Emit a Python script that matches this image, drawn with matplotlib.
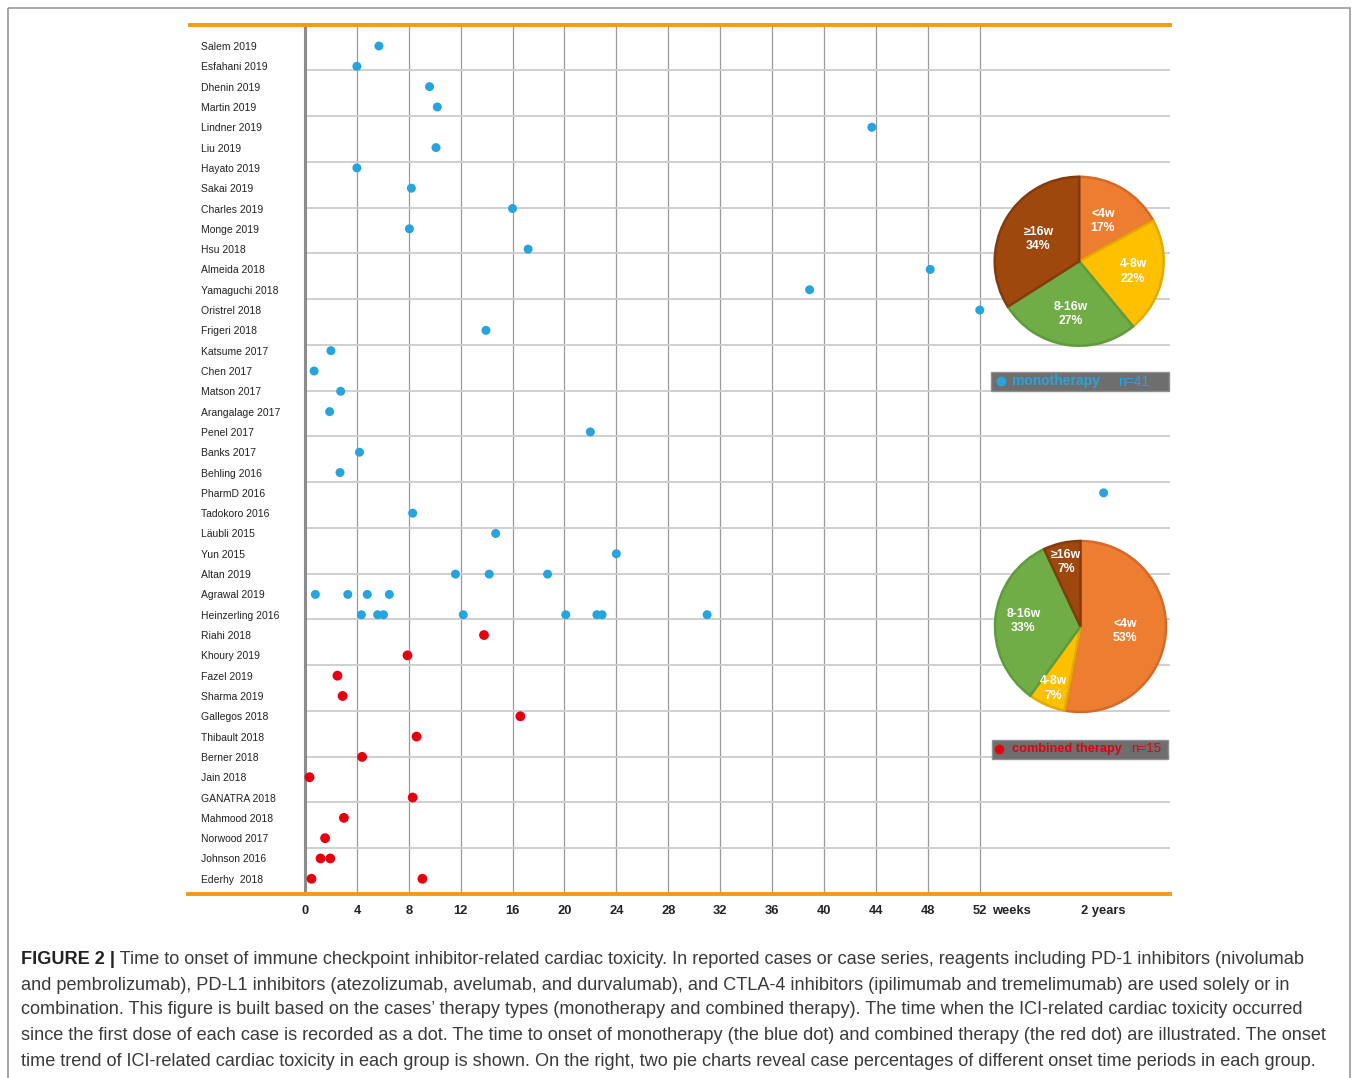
import numpy as np
import matplotlib.pyplot as plt
from matplotlib.patches import Rectangle
from matplotlib.lines import Line2D

W, H = 1352, 1078

# cases, top to bottom
cases = ["Salem 2019", "Esfahani 2019", "Dhenin 2019", "Martin 2019", "Lindner 2019",
         "Liu 2019", "Hayato 2019", "Sakai 2019", "Charles 2019", "Monge 2019",
         "Hsu 2018", "Almeida 2018", "Yamaguchi 2018", "Oristrel 2018", "Frigeri 2018",
         "Katsume 2017", "Chen 2017", "Matson 2017", "Arangalage 2017", "Penel 2017",
         "Banks 2017", "Behling 2016", "PharmD 2016", "Tadokoro 2016", "Läubli 2015",
         "Yun 2015", "Altan 2019", "Agrawal 2019", "Heinzerling 2016",
         "Riahi 2018", "Khoury 2019", "Fazel 2019", "Sharma 2019", "Gallegos 2018",
         "Thibault 2018", "Berner 2018", "Jain 2018", "GANATRA 2018", "Mahmood 2018",
         "Norwood 2017", "Johnson 2016", "Ederhy  2018"]

# time to onset in weeks (104 = 2 years)
onset_weeks = [[5.7], [4.0], [9.6], [10.2], [43.7],
               [10.1], [4.0], [8.2], [16.0], [8.05],
               [17.2], [48.2], [38.9], [52.1], [13.95],
               [2.0], [0.7], [2.75], [1.9], [22.0],
               [4.2], [2.7], [104], [8.3], [14.7],
               [24.0], [11.6, 14.2, 18.7], [0.8, 3.3, 4.8, 6.5],
               [4.35, 5.6, 6.05, 12.2, 20.1, 22.5, 22.9, 31.0],
               [13.8], [7.9], [2.5], [2.9], [16.6],
               [8.6], [4.4], [0.35], [8.3], [3.0],
               [1.55], [1.2, 1.95], [0.5, 9.05]]
therapy = ["mono"] * 29 + ["combined"] * 13

tick_weeks = [0, 4, 8, 12, 16, 20, 24, 28, 32, 36, 40, 44, 48, 52, 104]
tick_labels = ["0", "4", "8", "12", "16", "20", "24", "28", "32", "36", "40",
               "44", "48", "52", "2 years"]

pie_labels = ["<4w", "4-8w", "8-16w", "≥16w"]
mono_pct = [17, 22, 27, 34]
comb_pct = [53, 7, 33, 7]
mono_n = 41
comb_n = 15

caption = [
    "Time to onset of immune checkpoint inhibitor-related cardiac toxicity. In reported cases or case series, reagents including PD-1 inhibitors (nivolumab",
    "and pembrolizumab), PD-L1 inhibitors (atezolizumab, avelumab, and durvalumab), and CTLA-4 inhibitors (ipilimumab and tremelimumab) are used solely or in",
    "combination. This figure is built based on the cases\u2019 therapy types (monotherapy and combined therapy). The time when the ICI-related cardiac toxicity occurred",
    "since the first dose of each case is recorded as a dot. The time to onset of monotherapy (the blue dot) and combined therapy (the red dot) are illustrated. The onset",
    "time trend of ICI-related cardiac toxicity in each group is shown. On the right, two pie charts reveal case percentages of different onset time periods in each group.",
]

BLUE = "#27A4DD"
RED = "#E4000F"
ORANGE = "#F59A12"
pie_colors = ["#ED7D31", "#FFC000", "#70AD47", "#9E480E"]
pie_edges = ["#D4692A", "#E3AA00", "#5E9B3A", "#843B0C"]

plt.rcParams['font.family'] = ['Liberation Sans', 'DejaVu Sans']

fig = plt.figure(figsize=(W / 100, H / 100), dpi=100)


def px_box(x0, y0, x1, y1):
    return [x0 / W, 1 - y1 / H, (x1 - x0) / W, (y1 - y0) / H]


# main dot chart
ax = fig.add_axes(px_box(305, 24.7, 1170, 894))

K = 0.184  # compression of the part after 52 weeks


def fwd(x):
    x = np.asarray(x, float)
    return np.where(x <= 52, x, 52 + (x - 52) * K)


def inv(y):
    y = np.asarray(y, float)
    return np.where(y <= 52, y, 52 + (y - 52) / K)


ax.set_xscale('function', functions=(fwd, inv))
ax.set_xlim(0, 131.8)
ax.set_ylim(41.75, -1.05)

for w in tick_weeks:
    if 0 < w <= 52:
        ax.axvline(w, color='#9A9A9A', lw=0.9, zorder=1)
for k in range(1, 19):
    ax.plot([0, 1], [k / 19, k / 19], transform=ax.transAxes, color='#CFCFCF', lw=1.4, zorder=1)

for spine in ['top', 'bottom', 'right']:
    ax.spines[spine].set_visible(False)
ax.spines['left'].set_color('#8C8C8C')
ax.spines['left'].set_linewidth(2.2)

for yy, x0 in [(1, -0.133), (0, -0.135)]:
    ax.add_line(Line2D([x0, 1], [yy, yy], transform=ax.transAxes, color=ORANGE,
                       lw=2.8, clip_on=False, zorder=4))

for i, (weeks, grp) in enumerate(zip(onset_weeks, therapy)):
    col = BLUE if grp == "mono" else RED
    size = 42 if grp == "mono" else 50
    ax.scatter(weeks, [i] * len(weeks), s=size, color=col, edgecolors='none', zorder=3, clip_on=False)

ax.set_yticks(range(len(cases)), cases)
ax.tick_params(axis='y', length=0, pad=75, labelsize=7.5, labelcolor='#222222')
for lbl in ax.get_yticklabels():
    lbl.set_horizontalalignment('left')

ax.set_xticks(tick_weeks, tick_labels)
ax.tick_params(axis='x', length=0, pad=8, labelsize=9.3, labelcolor='#222222')
for lbl in ax.get_xticklabels():
    lbl.set_fontweight('bold')
ax.annotate("weeks", xy=(52, 0), xycoords=('data', 'axes fraction'), xytext=(9, -8),
            textcoords='offset points', ha='left', va='top', fontsize=9.3,
            fontweight='bold', color='#222222')


# pies
def draw_pie(cx, cy, r, pct, label_r):
    m = 1.04
    pax = fig.add_axes(px_box(cx - r * m, cy - r * m, cx + r * m, cy + r * m))
    wedges, _ = pax.pie(pct, colors=pie_colors, startangle=90, counterclock=False,
                        wedgeprops=dict(linewidth=1.8))
    for wdg, ec in zip(wedges, pie_edges):
        wdg.set_edgecolor(ec)
    pax.set_xlim(-m, m)
    pax.set_ylim(-m, m)
    for wdg, name, p, lr in zip(wedges, pie_labels, pct, label_r):
        ang = np.deg2rad((wdg.theta1 + wdg.theta2) / 2)
        pax.text(lr * np.cos(ang), lr * np.sin(ang), f"{name}\n{p}%", ha='center',
                 va='center', color='white', fontweight='bold', fontsize=8.8, linespacing=1.25)


draw_pie(1079.2, 261.3, 84.5, mono_pct, [0.55, 0.65, 0.63, 0.55])
draw_pie(1080.5, 626.5, 85.5, comb_pct, [0.52, 0.79, 0.67, 0.77])

# overlay in pixel coordinates: frame, legend boxes, caption
ov = fig.add_axes([0, 0, 1, 1])
ov.set_xlim(0, W)
ov.set_ylim(H, 0)
ov.axis('off')

ov.add_patch(Rectangle((7.5, 7.5), 1342, 1090, fill=False, ec='#9A9A9A', lw=1.2))

ov.add_patch(Rectangle((990.5, 371.5), 178.5, 19.5, fc='#6E6E6E', ec='#8F8F8F', lw=1))
ov.plot(1001, 381.3, 'o', ms=7, color=BLUE, mec='none')
ov.text(1012, 381.5, "monotherapy", color=BLUE, fontweight='bold', fontsize=10, va='center')
ov.text(1118, 381.5, f"n={mono_n}", color=BLUE, fontsize=10, va='center')

ov.add_patch(Rectangle((991.5, 740), 176, 18.5, fc='#6E6E6E', ec='#8F8F8F', lw=1))
ov.plot(998.5, 749, 'o', ms=7, color=RED, mec='none')
ov.text(1011.5, 749.3, "combined therapy", color=RED, fontweight='bold', fontsize=9.2, va='center')
ov.text(1131.5, 749.3, f"n={comb_n}", color=RED, fontsize=9.6, va='center')

cap_size = 13.05
cap_y = [959, 985, 1010, 1035, 1061]
head = ov.text(21, cap_y[0], "FIGURE 2 |", fontweight='bold', fontsize=cap_size,
               color='#222222', va='center')
ov.annotate(" " + caption[0], xy=(1, 0.5), xycoords=head, va='center', ha='left',
            fontsize=cap_size, color='#3A3A3A')
for y, line in zip(cap_y[1:], caption[1:]):
    ov.text(21, y, line, fontsize=cap_size, color='#3A3A3A', va='center')

fig.savefig("out.png", dpi=100)
